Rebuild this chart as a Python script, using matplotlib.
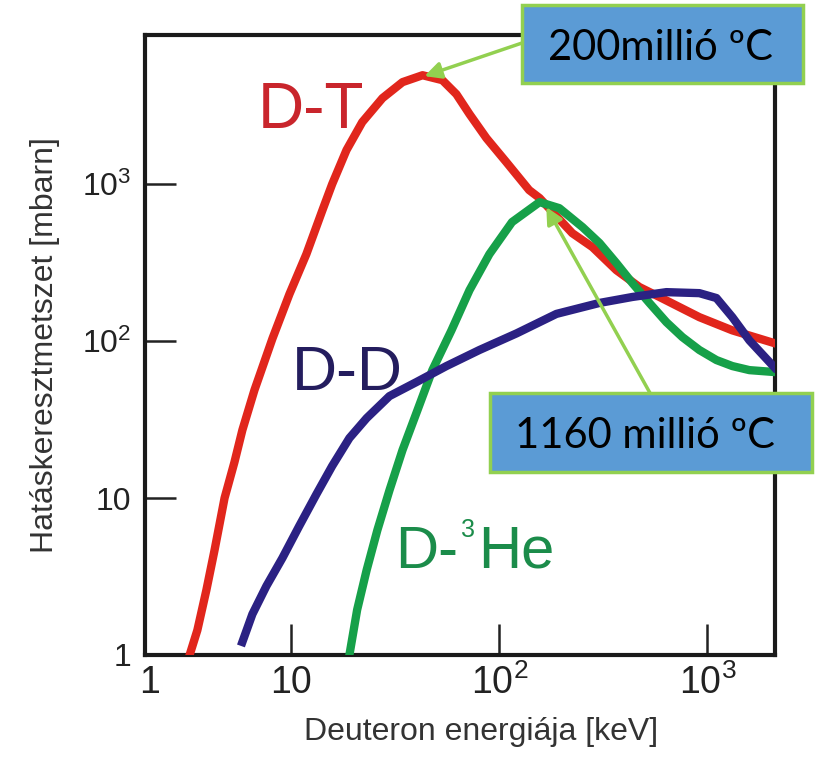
import matplotlib
matplotlib.use("Agg")
import matplotlib.pyplot as plt
from matplotlib.patches import Rectangle
from matplotlib.ticker import NullLocator

plt.rcParams["font.family"] = ["Liberation Sans", "DejaVu Sans"]
plt.rcParams["mathtext.fontset"] = "custom"
plt.rcParams["mathtext.rm"] = "Liberation Sans"

# deuteron energy [keV] and cross-section [mbarn]
dt_energy = [3.24, 3.53, 3.90, 4.27, 4.77, 5.32, 5.81, 6.64, 8.11, 9.78, 11.8, 14.1,
             15.7, 18.4, 21.9, 27.4, 34.2, 42.7, 53.2, 62.1, 71.8, 86.6, 108, 139,
             156, 224, 280, 365, 471, 588, 915, 1318, 2100]
dt_sigma = [1.0, 1.44, 2.59, 4.66, 10, 16.9, 27.1, 48.7, 104, 199, 358, 683,
            1000, 1648, 2483, 3530, 4463, 4940, 4593, 3741, 2793, 1963, 1380, 916,
            815, 487, 397, 283, 221, 191, 142, 117, 97]

dd_energy = [5.81, 6.49, 7.58, 9.05, 10.9, 13.2, 15.7, 19.0, 23.0, 29.6, 39.9, 55.6,
             80.1, 121, 188, 303, 436, 635, 915, 1105, 1318, 1592, 2100]
dd_sigma = [1.21, 1.82, 2.75, 4.15, 6.63, 10.6, 16.0, 24.1, 32.3, 44.6, 54.8, 69.3,
            87.7, 112, 149, 175, 191, 205, 202, 188, 142, 101, 68]

dhe_energy = [19.0, 20.7, 23.0, 25.9, 29.6, 34.2, 40.4, 47.6, 58.8, 71.8, 89.5, 115,
              156, 194, 251, 303, 365, 436, 526, 635, 758, 915, 1105, 1318, 1592, 2100]
dhe_sigma = [1.0, 1.94, 3.48, 6.25, 11.2, 20.2, 36.4, 65.3, 117, 211, 358, 573,
             768, 703, 532, 421, 314, 234, 175, 132, 106, 87.7, 75.7, 69.3, 65.3, 63.5]

x_ticks = [10, 100, 1000]
x_labels = ["10", r"$\mathregular{10^2}$", r"$\mathregular{10^3}$"]
y_ticks = [1, 10, 100, 1000]
y_labels = ["1", "10", r"$\mathregular{10^2}$", r"$\mathregular{10^3}$"]

W, H = 821, 758


def fx(px):
    return px / W


def fy(py):
    return 1 - py / H


fig = plt.figure(figsize=(W / 100, H / 100), dpi=100)
ax = fig.add_axes([fx(145), fy(655), 630 / W, 620 / H])
ax.set_xscale("log")
ax.set_yscale("log")

ax.plot(dt_energy, dt_sigma, color="#E1261C", lw=6, solid_joinstyle="round", zorder=3)
ax.plot(dhe_energy, dhe_sigma, color="#16A049", lw=6, solid_joinstyle="round", zorder=3)
ax.plot(dd_energy, dd_sigma, color="#2B2183", lw=6, solid_joinstyle="round", zorder=4)

ax.set_xlim(10 ** 0.296, 10 ** 3.325)
ax.set_ylim(1, 10 ** 3.95)
ax.set_xticks(x_ticks)
ax.set_xticklabels(x_labels)
ax.set_yticks(y_ticks)
ax.set_yticklabels(y_labels)
ax.xaxis.set_minor_locator(NullLocator())
ax.yaxis.set_minor_locator(NullLocator())
ax.tick_params(axis="both", direction="in", length=22, width=1.8, color="#222222")
ax.tick_params(axis="x", labelsize=27, pad=7, labelcolor="#222222")
ax.tick_params(axis="y", labelsize=23, pad=10, labelcolor="#222222")
for s in ax.spines.values():
    s.set_linewidth(3)
    s.set_color("#1a1a1a")

# corner "1" of the energy axis
fig.text(fx(150), fy(693), "1", fontsize=27, color="#222222", ha="center", va="baseline")

fig.text(fx(481), fy(740), "Deuteron energiája [keV]", fontsize=23, color="#333333",
         ha="center", va="baseline")
fig.text(fx(45), fy(345), "Hatáskeresztmetszet [mbarn]", fontsize=23, color="#333333",
         ha="center", va="center", rotation=90)

# curve names
fig.text(fx(258), fy(128), "D-T", fontsize=46, color="#C9252C", va="baseline")
fig.text(fx(292), fy(390), "D-D", fontsize=45, color="#241D5E", va="baseline")
fig.text(fx(395), fy(568), "D-", fontsize=43, color="#1B8C4A", va="baseline")
fig.text(fx(461), fy(537), "3", fontsize=18, color="#1B8C4A", va="baseline")
fig.text(fx(478), fy(568), "He", fontsize=43, color="#1B8C4A", va="baseline")

# temperature callouts
ax.annotate("", xy=(43.6, 4875), xycoords="data", xytext=(522, H - 43),
            textcoords="figure pixels",
            arrowprops=dict(arrowstyle="-|>", color="#92D050", lw=2.5,
                            mutation_scale=25, shrinkA=0, shrinkB=0), zorder=6)
ax.annotate("", xy=(168, 714), xycoords="data", xytext=(650, H - 393),
            textcoords="figure pixels",
            arrowprops=dict(arrowstyle="-|>", color="#92D050", lw=2.5,
                            mutation_scale=25, shrinkA=0, shrinkB=0), zorder=6)

boxes = [
    (522, 5, 803, 83, "200millió ºC", 660, 60),
    (490, 393, 812, 472, "1160 millió ºC", 645, 448),
]
for x0, y0, x1, y1, label, tx, ty in boxes:
    fig.add_artist(Rectangle((fx(x0), fy(y1)), (x1 - x0) / W, (y1 - y0) / H,
                             transform=fig.transFigure, facecolor="#5B9BD5",
                             edgecolor="#92D050", lw=2.5, zorder=7))
    fig.text(fx(tx), fy(ty), label, fontsize=30, family="Lato", color="black",
             ha="center", va="baseline", zorder=8)

fig.savefig("out.png", dpi=100)
